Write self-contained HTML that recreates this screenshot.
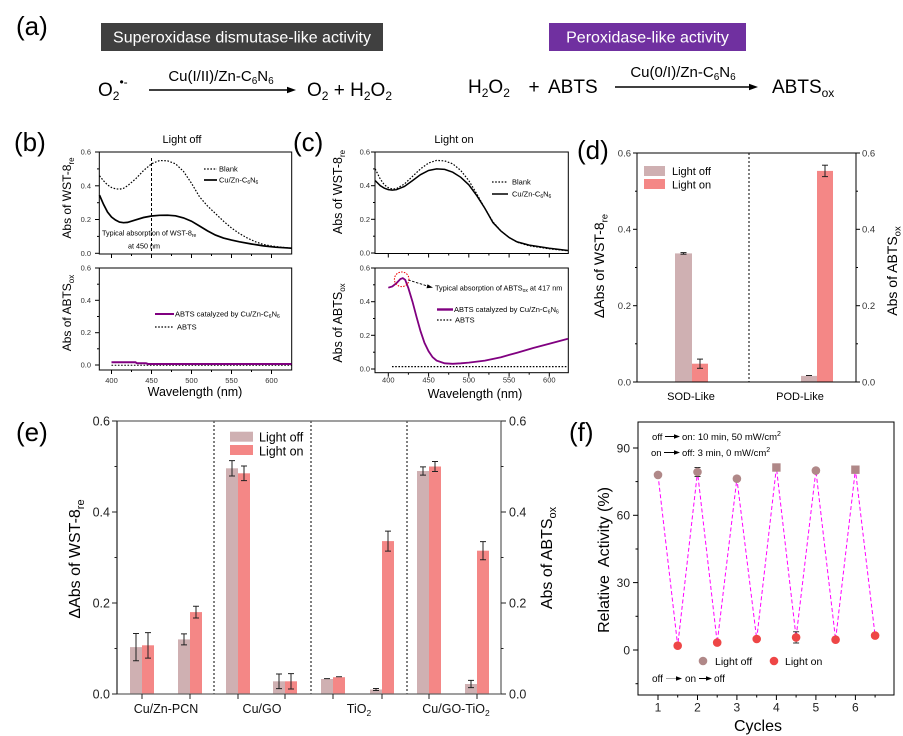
<!DOCTYPE html>
<html><head><meta charset="utf-8">
<style>
html,body{margin:0;padding:0;background:#fff;}
svg{display:block;font-family:"Liberation Sans",Arial,sans-serif;}
</style></head>
<body>
<svg width="903" height="736" viewBox="0 0 903 736" xmlns="http://www.w3.org/2000/svg">
<rect width="903" height="736" fill="#fff"/>

<!-- ============ (a) ============ -->
<text x="16" y="35" font-size="26">(a)</text>
<rect x="101" y="23" width="282" height="28" fill="#404040"/>
<text x="242" y="42.5" font-size="16" fill="#fff" text-anchor="middle">Superoxidase dismutase-like activity</text>
<rect x="549" y="23" width="197" height="28" fill="#7030a0"/>
<text x="647.5" y="42.5" font-size="16" fill="#fff" text-anchor="middle">Peroxidase-like activity</text>

<text x="98" y="96" font-size="19">O<tspan font-size="12" dy="4">2</tspan><tspan font-size="12" dy="-14">•-</tspan></text>
<line x1="149" y1="90" x2="289" y2="90" stroke="#000" stroke-width="1.5"/>
<polygon points="296,90 287,86.8 287,93.2" fill="#000"/>
<text x="221" y="81" font-size="15" text-anchor="middle">Cu(I/II)/Zn-C<tspan dy="3" font-size="10">6</tspan><tspan dy="-3">N</tspan><tspan dy="3" font-size="10">6</tspan></text>
<text x="307" y="96" font-size="19">O<tspan dy="4" font-size="12">2</tspan><tspan dy="-4"> + H</tspan><tspan dy="4" font-size="12">2</tspan><tspan dy="-4">O</tspan><tspan dy="4" font-size="12">2</tspan></text>

<text x="468" y="93" font-size="19">H<tspan dy="4" font-size="12">2</tspan><tspan dy="-4">O</tspan><tspan dy="4" font-size="12">2</tspan></text>
<text x="534" y="93" font-size="19" text-anchor="middle">+</text>
<text x="548" y="93" font-size="19">ABTS</text>
<line x1="615" y1="87" x2="751" y2="87" stroke="#000" stroke-width="1.5"/>
<polygon points="758,87 749,83.8 749,90.2" fill="#000"/>
<text x="683" y="77" font-size="15" text-anchor="middle">Cu(0/I)/Zn-C<tspan dy="3" font-size="10">6</tspan><tspan dy="-3">N</tspan><tspan dy="3" font-size="10">6</tspan></text>
<text x="772" y="93" font-size="19">ABTS<tspan dy="4" font-size="12">ox</tspan></text>

<!-- ============ (b) ============ -->
<text x="14" y="151" font-size="26">(b)</text>
<text x="182" y="143" font-size="11" text-anchor="middle">Light off</text>
<!-- top axes -->
<rect x="99.3" y="152" width="192.4" height="102" fill="none" stroke="#000" stroke-width="1"/>
<g stroke="#000" stroke-width="1" fill="none">
<line x1="95" y1="152" x2="99.3" y2="152"/><line x1="95" y1="185.8" x2="99.3" y2="185.8"/><line x1="95" y1="219.5" x2="99.3" y2="219.5"/><line x1="95" y1="253.3" x2="99.3" y2="253.3"/>
<line x1="97" y1="168.9" x2="99.3" y2="168.9"/><line x1="97" y1="202.7" x2="99.3" y2="202.7"/><line x1="97" y1="236.4" x2="99.3" y2="236.4"/>
<line x1="111.5" y1="254" x2="111.5" y2="258"/><line x1="151.5" y1="254" x2="151.5" y2="258"/><line x1="191.5" y1="254" x2="191.5" y2="258"/><line x1="231.5" y1="254" x2="231.5" y2="258"/><line x1="271.5" y1="254" x2="271.5" y2="258"/>
<line x1="131.5" y1="254" x2="131.5" y2="256"/><line x1="171.5" y1="254" x2="171.5" y2="256"/><line x1="211.5" y1="254" x2="211.5" y2="256"/><line x1="251.5" y1="254" x2="251.5" y2="256"/>
</g>
<g font-size="7.5" fill="#333" text-anchor="end">
<text x="91" y="154.5">0.6</text><text x="91" y="188.3">0.4</text><text x="91" y="222">0.2</text><text x="91" y="255.8">0.0</text>
</g>
<polyline fill="none" stroke="#000" stroke-width="1.2" stroke-dasharray="1.6,1.6" points="99.5,175.7 103.5,180.7 107.5,184.9 111.5,187.5 115.5,188.8 119.5,189.2 123.5,188.3 127.5,185.8 135.5,179.0 143.5,170.6 151.5,163.8 159.5,160.5 167.5,160.8 175.5,163.8 183.5,171.4 191.5,183.3 199.5,196.8 207.5,206.0 215.5,213.6 223.5,221.2 231.5,228.0 239.5,233.6 247.5,238.1 255.5,241.8 263.5,244.5 271.5,246.0 281.1,247.2 291.5,248.2"/>
<polyline fill="none" stroke="#000" stroke-width="1.7" points="99.5,195.1 103.5,204.3 107.5,212.0 111.5,217.0 115.5,220.0 119.5,222.1 123.5,222.7 127.5,222.4 135.5,219.9 143.5,217.5 151.5,216.0 159.5,215.3 167.5,215.2 175.5,215.8 183.5,217.9 191.5,221.2 199.5,226.0 207.5,230.9 215.5,235.1 223.5,238.1 231.5,240.1 239.5,241.8 251.5,244.0 263.5,245.9 275.5,247.2 291.5,248.2"/>
<line x1="151.5" y1="158" x2="151.5" y2="251.7" stroke="#000" stroke-width="1" stroke-dasharray="3,2"/>
<line x1="204" y1="169" x2="217" y2="169" stroke="#000" stroke-width="1.2" stroke-dasharray="1.6,1.6"/>
<text x="219" y="171.5" font-size="7.5">Blank</text>
<line x1="204" y1="180" x2="217" y2="180" stroke="#000" stroke-width="1.7"/>
<text x="219" y="182.5" font-size="7.5">Cu/Zn-C<tspan dy="1.5" font-size="5">6</tspan><tspan dy="-1.5">N</tspan><tspan dy="1.5" font-size="5">6</tspan></text>
<text x="102" y="235.5" font-size="7.2">Typical absorption of  WST-8<tspan dy="1.5" font-size="5">re</tspan></text>
<text x="128" y="248.5" font-size="7.2">at 450 nm</text>
<text transform="translate(71,198) rotate(-90)" font-size="12" text-anchor="middle">Abs of WST-8<tspan dy="3" font-size="8">re</tspan></text>

<!-- bottom (b) -->
<rect x="99.3" y="268" width="192.4" height="102" fill="none" stroke="#000" stroke-width="1"/>
<g stroke="#000" stroke-width="1">
<line x1="95" y1="268" x2="99.3" y2="268"/><line x1="95" y1="300.3" x2="99.3" y2="300.3"/><line x1="95" y1="332.7" x2="99.3" y2="332.7"/><line x1="95" y1="365" x2="99.3" y2="365"/>
<line x1="97" y1="284.2" x2="99.3" y2="284.2"/><line x1="97" y1="316.5" x2="99.3" y2="316.5"/><line x1="97" y1="348.8" x2="99.3" y2="348.8"/>
<line x1="111.5" y1="370" x2="111.5" y2="374"/><line x1="151.5" y1="370" x2="151.5" y2="374"/><line x1="191.5" y1="370" x2="191.5" y2="374"/><line x1="231.5" y1="370" x2="231.5" y2="374"/><line x1="271.5" y1="370" x2="271.5" y2="374"/>
<line x1="131.5" y1="370" x2="131.5" y2="372"/><line x1="171.5" y1="370" x2="171.5" y2="372"/><line x1="211.5" y1="370" x2="211.5" y2="372"/><line x1="251.5" y1="370" x2="251.5" y2="372"/>
</g>
<g font-size="7.5" fill="#333" text-anchor="end">
<text x="91" y="270.5">0.6</text><text x="91" y="302.8">0.4</text><text x="91" y="335.2">0.2</text><text x="91" y="367.5">0.0</text>
</g>
<g font-size="7.5" fill="#333" text-anchor="middle">
<text x="111.5" y="383">400</text><text x="151.5" y="383">450</text><text x="191.5" y="383">500</text><text x="231.5" y="383">550</text><text x="271.5" y="383">600</text>
</g>
<line x1="111.5" y1="365.3" x2="291.5" y2="365.3" stroke="#000" stroke-width="1" stroke-dasharray="1.6,1.6"/>
<polyline fill="none" stroke="#800080" stroke-width="2" points="111.5,362.3 135.5,362.3 137,363.3 146,363.3 148,364 291.5,364"/>
<line x1="155" y1="314" x2="174" y2="314" stroke="#800080" stroke-width="2"/>
<text x="175" y="316.5" font-size="7.5">ABTS catalyzed by Cu/Zn-C<tspan dy="1.5" font-size="5">6</tspan><tspan dy="-1.5">N</tspan><tspan dy="1.5" font-size="5">6</tspan></text>
<line x1="155" y1="327" x2="173" y2="327" stroke="#000" stroke-width="1.2" stroke-dasharray="1.6,1.6"/>
<text x="177" y="329.5" font-size="7.5">ABTS</text>
<text transform="translate(71,313) rotate(-90)" font-size="12" text-anchor="middle">Abs of ABTS<tspan dy="3" font-size="8">ox</tspan></text>
<text x="195" y="396" font-size="12.5" text-anchor="middle">Wavelength (nm)</text>

<!-- ============ (c) ============ -->
<text x="293" y="151" font-size="26">(c)</text>
<text x="454" y="143" font-size="11" text-anchor="middle">Light on</text>
<rect x="375" y="152" width="193.3" height="101.5" fill="none" stroke="#000" stroke-width="1"/>
<g stroke="#000" stroke-width="1">
<line x1="371" y1="152" x2="375" y2="152"/><line x1="371" y1="185.7" x2="375" y2="185.7"/><line x1="371" y1="219.3" x2="375" y2="219.3"/><line x1="371" y1="253" x2="375" y2="253"/>
<line x1="373" y1="168.9" x2="375" y2="168.9"/><line x1="373" y1="202.5" x2="375" y2="202.5"/><line x1="373" y1="236.2" x2="375" y2="236.2"/>
<line x1="388.3" y1="253.5" x2="388.3" y2="257.5"/><line x1="428.6" y1="253.5" x2="428.6" y2="257.5"/><line x1="468.8" y1="253.5" x2="468.8" y2="257.5"/><line x1="509.1" y1="253.5" x2="509.1" y2="257.5"/><line x1="549.3" y1="253.5" x2="549.3" y2="257.5"/>
<line x1="408.4" y1="253.5" x2="408.4" y2="255.5"/><line x1="448.7" y1="253.5" x2="448.7" y2="255.5"/><line x1="488.9" y1="253.5" x2="488.9" y2="255.5"/><line x1="529.2" y1="253.5" x2="529.2" y2="255.5"/>
</g>
<g font-size="7.5" fill="#333" text-anchor="end">
<text x="370" y="154.5">0.6</text><text x="370" y="188.2">0.4</text><text x="370" y="221.8">0.2</text><text x="370" y="255.5">0.0</text>
</g>
<polyline fill="none" stroke="#000" stroke-width="1.2" stroke-dasharray="1.6,1.6" points="375.2,168.9 380.25,179.0 384.3,184.8 388.3,187.7 392.3,189.0 396.4,188.7 404.4,184.0 412.5,176.4 420.5,168.9 428.6,163.0 436.6,160.4 444.7,160.9 452.7,163.8 460.8,170.5 468.8,180.6 476.9,194.1 484.9,208.4 493.0,221.9 501.0,231.1 509.1,237.5 517.1,242.2 529.2,245.8 549.3,248.8 568,250.8"/>
<polyline fill="none" stroke="#000" stroke-width="1.5" points="375.2,180.6 380.25,185.7 384.3,188.2 388.3,189.6 392.3,190.1 396.4,189.7 404.4,186.5 412.5,180.6 420.5,174.7 428.6,170.5 436.6,168.9 444.7,169.4 452.7,172.2 460.8,177.3 468.8,184.8 476.9,195.8 484.9,208.4 493.0,222.7 501.0,231.1 509.1,237.5 517.1,241.9 529.2,245.1 549.3,248.3 568,250.5"/>
<line x1="492" y1="182" x2="508" y2="182" stroke="#000" stroke-width="1.2" stroke-dasharray="1.6,1.6"/>
<text x="512" y="184.5" font-size="7.5">Blank</text>
<line x1="492" y1="194" x2="508" y2="194" stroke="#000" stroke-width="1.5"/>
<text x="512" y="196.5" font-size="7.5">Cu/Zn-C<tspan dy="1.5" font-size="5">6</tspan><tspan dy="-1.5">N</tspan><tspan dy="1.5" font-size="5">6</tspan></text>
<text transform="translate(342,192) rotate(-90)" font-size="12.5" text-anchor="middle">Abs of WST-8<tspan dy="3" font-size="8">re</tspan></text>

<!-- bottom (c) -->
<rect x="375" y="268" width="193.3" height="104.7" fill="none" stroke="#000" stroke-width="1"/>
<g stroke="#000" stroke-width="1">
<line x1="371" y1="268" x2="375" y2="268"/><line x1="371" y1="301.7" x2="375" y2="301.7"/><line x1="371" y1="335.3" x2="375" y2="335.3"/><line x1="371" y1="369" x2="375" y2="369"/>
<line x1="373" y1="284.8" x2="375" y2="284.8"/><line x1="373" y1="318.5" x2="375" y2="318.5"/><line x1="373" y1="352.2" x2="375" y2="352.2"/>
<line x1="388.3" y1="372.7" x2="388.3" y2="376.7"/><line x1="428.6" y1="372.7" x2="428.6" y2="376.7"/><line x1="468.8" y1="372.7" x2="468.8" y2="376.7"/><line x1="509.1" y1="372.7" x2="509.1" y2="376.7"/><line x1="549.3" y1="372.7" x2="549.3" y2="376.7"/>
<line x1="408.4" y1="372.7" x2="408.4" y2="374.7"/><line x1="448.7" y1="372.7" x2="448.7" y2="374.7"/><line x1="488.9" y1="372.7" x2="488.9" y2="374.7"/><line x1="529.2" y1="372.7" x2="529.2" y2="374.7"/>
</g>
<g font-size="7.5" fill="#333" text-anchor="end">
<text x="370" y="270.5">0.6</text><text x="370" y="304.2">0.4</text><text x="370" y="337.8">0.2</text><text x="370" y="371.5">0.0</text>
</g>
<g font-size="7.5" fill="#333" text-anchor="middle">
<text x="388.3" y="382.5">400</text><text x="428.6" y="382.5">450</text><text x="468.8" y="382.5">500</text><text x="509.1" y="382.5">550</text><text x="549.3" y="382.5">600</text>
</g>
<line x1="392" y1="366.6" x2="568" y2="366.6" stroke="#000" stroke-width="1.2" stroke-dasharray="1.6,1.6"/>
<polyline fill="none" stroke="#800080" stroke-width="1.8" points="388.3,287.7 392.3,286.5 396.4,283.2 400.4,279.0 402.8,278.1 405.2,279.8 408.4,288.2 412.5,301.7 416.5,316.8 420.5,331.1 424.5,342.9 428.6,351.3 432.6,357.2 436.6,360.6 444.7,363.3 452.7,363.8 460.8,363.3 468.8,362.6 484.9,360.6 501.0,357.2 517.1,352.7 533.2,348.0 549.3,343.8 568,338.7"/>
<circle cx="401.7" cy="279.3" r="7.3" fill="none" stroke="#e00" stroke-width="1" stroke-dasharray="1.5,1.3"/>
<line x1="408.3" y1="280" x2="429" y2="286.5" stroke="#000" stroke-width="0.9" stroke-dasharray="2.5,1.5"/>
<polygon points="433,287.6 427.5,284.2 426.5,288.2" fill="#000"/>
<text x="435" y="290.5" font-size="7.3">Typical absorption of ABTS<tspan dy="1.5" font-size="5">ox</tspan><tspan dy="-1.5"> at 417 nm</tspan></text>
<line x1="437" y1="309.5" x2="453" y2="309.5" stroke="#800080" stroke-width="2.4"/>
<text x="454" y="312" font-size="7.5">ABTS catalyzed by Cu/Zn-C<tspan dy="1.5" font-size="5">6</tspan><tspan dy="-1.5">N</tspan><tspan dy="1.5" font-size="5">6</tspan></text>
<line x1="437" y1="320" x2="452" y2="320" stroke="#000" stroke-width="1.2" stroke-dasharray="1.6,1.6"/>
<text x="455" y="322.5" font-size="7.5">ABTS</text>
<text transform="translate(342,323) rotate(-90)" font-size="12.5" text-anchor="middle">Abs of ABTS<tspan dy="3" font-size="8">ox</tspan></text>
<text x="475" y="398" font-size="12.5" text-anchor="middle">Wavelength (nm)</text>

<!-- ============ (d) ============ -->
<text x="577" y="159" font-size="26">(d)</text>
<text transform="translate(604,266) rotate(-90)" font-size="14" text-anchor="middle">ΔAbs of WST-8<tspan dy="3.5" font-size="9.5">re</tspan></text>
<!-- bars -->
<rect x="675" y="253.4" width="17" height="128.6" fill="#cfb0b2"/>
<rect x="692" y="363.7" width="16" height="18.3" fill="#f48786"/>
<rect x="801" y="375.9" width="16" height="6.1" fill="#cfb0b2"/>
<rect x="817" y="170.9" width="16" height="211.1" fill="#f48786"/>
<g stroke="#222" stroke-width="1">
<line x1="683.5" y1="252.6" x2="683.5" y2="254.2"/><line x1="680.5" y1="252.6" x2="686.5" y2="252.6"/><line x1="680.5" y1="254.2" x2="686.5" y2="254.2"/>
<line x1="700" y1="359.1" x2="700" y2="368.3"/><line x1="697" y1="359.1" x2="703" y2="359.1"/><line x1="697" y1="368.3" x2="703" y2="368.3"/>
<line x1="806" y1="375.5" x2="812" y2="375.5"/>
<line x1="825" y1="165.2" x2="825" y2="176.6"/><line x1="822" y1="165.2" x2="828" y2="165.2"/><line x1="822" y1="176.6" x2="828" y2="176.6"/>
</g>
<line x1="749" y1="153" x2="749" y2="382" stroke="#000" stroke-width="1" stroke-dasharray="2,2"/>
<rect x="637" y="153" width="219" height="229" fill="none" stroke="#000" stroke-width="1"/>
<g stroke="#000" stroke-width="1">
<line x1="633" y1="153" x2="637" y2="153"/><line x1="633" y1="229.3" x2="637" y2="229.3"/><line x1="633" y1="305.7" x2="637" y2="305.7"/><line x1="633" y1="382" x2="637" y2="382"/>
<line x1="635" y1="191.2" x2="637" y2="191.2"/><line x1="635" y1="267.5" x2="637" y2="267.5"/><line x1="635" y1="343.8" x2="637" y2="343.8"/>
<line x1="856" y1="153" x2="860" y2="153"/><line x1="856" y1="229.3" x2="860" y2="229.3"/><line x1="856" y1="305.7" x2="860" y2="305.7"/><line x1="856" y1="382" x2="860" y2="382"/>
<line x1="856" y1="191.2" x2="858" y2="191.2"/><line x1="856" y1="267.5" x2="858" y2="267.5"/><line x1="856" y1="343.8" x2="858" y2="343.8"/>
</g>
<g font-size="9.5" fill="#333" text-anchor="end">
<text x="631" y="156.3">0.6</text><text x="631" y="232.6">0.4</text><text x="631" y="309">0.2</text><text x="631" y="385.3">0.0</text>
</g>
<g font-size="9.5" fill="#333">
<text x="862" y="156.3">0.6</text><text x="862" y="232.6">0.4</text><text x="862" y="309">0.2</text><text x="862" y="385.3">0.0</text>
</g>
<rect x="644" y="166" width="21" height="10" fill="#cfb0b2"/>
<text x="672" y="175" font-size="11">Light off</text>
<rect x="644" y="179" width="21" height="10" fill="#f48786"/>
<text x="672" y="188.3" font-size="11">Light on</text>
<text x="691" y="400" font-size="11" text-anchor="middle">SOD-Like</text>
<text x="800" y="400" font-size="11" text-anchor="middle">POD-Like</text>
<text transform="translate(897,271) rotate(-90)" font-size="14" text-anchor="middle">Abs of ABTS<tspan dy="3.5" font-size="9.5">ox</tspan></text>

<!-- ============ (e) ============ -->
<text x="16" y="441" font-size="26">(e)</text>
<text transform="translate(80,559) rotate(-90)" font-size="16" text-anchor="middle">ΔAbs of WST-8<tspan dy="4" font-size="11">re</tspan></text>
<text transform="translate(552,558) rotate(-90)" font-size="16" text-anchor="middle">Abs of ABTS<tspan dy="4" font-size="11">ox</tspan></text>
<!-- bars e -->
<g fill="#cfb0b2">
<rect x="130" y="647.1" width="12" height="46.9"/>
<rect x="178" y="639.4" width="12" height="54.6"/>
<rect x="226" y="468.3" width="12" height="225.7"/>
<rect x="273" y="681.3" width="12" height="12.7"/>
<rect x="321" y="679" width="12" height="15"/>
<rect x="370" y="689.5" width="12" height="4.5"/>
<rect x="417" y="471" width="12" height="223"/>
<rect x="465" y="684" width="12" height="10"/>
</g>
<g fill="#f48786">
<rect x="142" y="645.3" width="12" height="48.7"/>
<rect x="190" y="612.1" width="12" height="81.9"/>
<rect x="238" y="473.3" width="12" height="220.7"/>
<rect x="285" y="681.3" width="12" height="12.7"/>
<rect x="333" y="677.2" width="12" height="16.8"/>
<rect x="382" y="541.1" width="12" height="152.9"/>
<rect x="429" y="466.5" width="12" height="227.5"/>
<rect x="477" y="550.7" width="12" height="143.3"/>
</g>
<g stroke="#222" stroke-width="1">
<path d="M136,633.5V660.8M133,633.5H139M133,660.8H139"/>
<path d="M148,632.6V658.1M145,632.6H151M145,658.1H151"/>
<path d="M184,633.9V644.9M181,633.9H187M181,644.9H187"/>
<path d="M196,606.2V618M193,606.2H199M193,618H199"/>
<path d="M232,460.6V476M229,460.6H235M229,476H235"/>
<path d="M244,466V480.6M241,466H247M241,480.6H247"/>
<path d="M279,674V688.6M276,674H282M276,688.6H282"/>
<path d="M291,673.6V689M288,673.6H294M288,689H294"/>
<path d="M324,678.6H330M336,676.8H342"/>
<path d="M376,688.5V690.5M373,688.5H379M373,690.5H379"/>
<path d="M388,531.1V551.1M385,531.1H391M385,551.1H391"/>
<path d="M423,466.9V475.1M420,466.9H426M420,475.1H426"/>
<path d="M435,461.5V471.5M432,461.5H438M432,471.5H438"/>
<path d="M471,680.4V687.6M468,680.4H474M468,687.6H474"/>
<path d="M483,541.6V559.8M480,541.6H486M480,559.8H486"/>
</g>
<g stroke="#000" stroke-width="1" stroke-dasharray="2,2">
<line x1="214" y1="421" x2="214" y2="694"/><line x1="311" y1="421" x2="311" y2="694"/><line x1="407" y1="421" x2="407" y2="694"/>
</g>
<g stroke="#666" stroke-width="1.3" fill="none">
<line x1="117" y1="421" x2="501" y2="421"/>
<line x1="117" y1="694" x2="501" y2="694"/>
<line x1="501" y1="421" x2="501" y2="694"/>
</g>
<line x1="117" y1="421" x2="117" y2="694" stroke="#222" stroke-width="1.2"/>
<g stroke="#222" stroke-width="1">
<line x1="112" y1="421" x2="117" y2="421"/><line x1="112" y1="512" x2="117" y2="512"/><line x1="112" y1="603" x2="117" y2="603"/><line x1="112" y1="694" x2="117" y2="694"/>
<line x1="114.5" y1="466.5" x2="117" y2="466.5"/><line x1="114.5" y1="557.5" x2="117" y2="557.5"/><line x1="114.5" y1="648.5" x2="117" y2="648.5"/>
<line x1="501" y1="421" x2="506" y2="421"/><line x1="501" y1="512" x2="506" y2="512"/><line x1="501" y1="603" x2="506" y2="603"/><line x1="501" y1="694" x2="506" y2="694"/>
<line x1="501" y1="466.5" x2="503.5" y2="466.5"/><line x1="501" y1="557.5" x2="503.5" y2="557.5"/><line x1="501" y1="648.5" x2="503.5" y2="648.5"/>
<line x1="142" y1="694" x2="142" y2="699"/><line x1="190" y1="694" x2="190" y2="699"/><line x1="238" y1="694" x2="238" y2="699"/><line x1="285" y1="694" x2="285" y2="699"/>
<line x1="333" y1="694" x2="333" y2="699"/><line x1="382" y1="694" x2="382" y2="699"/><line x1="429" y1="694" x2="429" y2="699"/><line x1="477" y1="694" x2="477" y2="699"/>
</g>
<g font-size="12.5" fill="#222" text-anchor="end">
<text x="110" y="425.5">0.6</text><text x="110" y="516.5">0.4</text><text x="110" y="607.5">0.2</text><text x="110" y="698.5">0.0</text>
</g>
<g font-size="12.5" fill="#222">
<text x="509" y="425.5">0.6</text><text x="509" y="516.5">0.4</text><text x="509" y="607.5">0.2</text><text x="509" y="698.5">0.0</text>
</g>
<rect x="230" y="431.7" width="23" height="10" fill="#cfb0b2"/>
<text x="259" y="441.5" font-size="12.5">Light off</text>
<rect x="230" y="445" width="23" height="10" fill="#f48786"/>
<text x="259" y="455.5" font-size="12.5">Light on</text>
<g font-size="12.5" fill="#111" text-anchor="middle">
<text x="166" y="713">Cu/Zn-PCN</text>
<text x="262" y="713">Cu/GO</text>
<text x="359" y="713">TiO<tspan dy="3" font-size="8.5">2</tspan></text>
<text x="456" y="713">Cu/GO-TiO<tspan dy="3" font-size="8.5">2</tspan></text>
</g>

<!-- ============ (f) ============ -->
<text x="569" y="441" font-size="26">(f)</text>
<rect x="638" y="422" width="256" height="273" fill="none" stroke="#000" stroke-width="1"/>
<g stroke="#000" stroke-width="1">
<line x1="633" y1="448" x2="638" y2="448"/><line x1="633" y1="515.3" x2="638" y2="515.3"/><line x1="633" y1="582.6" x2="638" y2="582.6"/><line x1="633" y1="650" x2="638" y2="650"/>
<line x1="635.5" y1="481.6" x2="638" y2="481.6"/><line x1="635.5" y1="549" x2="638" y2="549"/><line x1="635.5" y1="616.3" x2="638" y2="616.3"/><line x1="635.5" y1="683.7" x2="638" y2="683.7"/>
<line x1="658" y1="695" x2="658" y2="700"/><line x1="697.5" y1="695" x2="697.5" y2="700"/><line x1="736.9" y1="695" x2="736.9" y2="700"/><line x1="776.4" y1="695" x2="776.4" y2="700"/><line x1="815.9" y1="695" x2="815.9" y2="700"/><line x1="855.4" y1="695" x2="855.4" y2="700"/>
<line x1="677.7" y1="695" x2="677.7" y2="697.5"/><line x1="717.2" y1="695" x2="717.2" y2="697.5"/><line x1="756.7" y1="695" x2="756.7" y2="697.5"/><line x1="796.1" y1="695" x2="796.1" y2="697.5"/><line x1="835.6" y1="695" x2="835.6" y2="697.5"/><line x1="875.1" y1="695" x2="875.1" y2="697.5"/>
</g>
<g font-size="12" fill="#222" text-anchor="end">
<text x="630" y="452.3">90</text><text x="630" y="519.6">60</text><text x="630" y="586.9">30</text><text x="630" y="654.3">0</text>
</g>
<g font-size="12" fill="#222" text-anchor="middle">
<text x="658" y="711.5">1</text><text x="697.5" y="711.5">2</text><text x="736.9" y="711.5">3</text><text x="776.4" y="711.5">4</text><text x="815.9" y="711.5">5</text><text x="855.4" y="711.5">6</text>
</g>
<polyline fill="none" stroke="#ff00ff" stroke-width="1" stroke-dasharray="4,2.5" points="658,474.9 677.7,645.7 697.5,472.0 717.2,642.6 736.9,478.7 756.7,639.0 776.4,467.5 796.1,637.4 815.9,470.6 835.6,639.7 855.4,469.7 875.1,635.6"/>
<g stroke="#333" stroke-width="1">
<path d="M697.5,467.5V476.5M694.5,467.5H700.5M694.5,476.5H700.5"/>
<path d="M796.1,631.8V643M793.1,631.8H799.1M793.1,643H799.1"/>
<path d="M776.4,464V471M773.4,464H779.4M773.4,471H779.4"/>
</g>
<g fill="#b08888">
<circle cx="658" cy="474.9" r="4.3"/><circle cx="697.5" cy="472" r="4.3"/><circle cx="736.9" cy="478.7" r="4.3"/>
<rect x="772.2" y="463.3" width="8.4" height="8.4"/><circle cx="815.9" cy="470.6" r="4.3"/><rect x="851.2" y="465.5" width="8.4" height="8.4"/>
</g>
<g fill="#ee4646">
<circle cx="677.7" cy="645.7" r="4.3"/><circle cx="717.2" cy="642.6" r="4.3"/><circle cx="756.7" cy="639" r="4.3"/>
<circle cx="796.1" cy="637.4" r="4.3"/><circle cx="835.6" cy="639.7" r="4.3"/><circle cx="875.1" cy="635.6" r="4.3"/>
</g>
<!-- annotations -->
<text x="652" y="440" font-size="9.5">off</text>
<line x1="665" y1="436.5" x2="675" y2="436.5" stroke="#000" stroke-width="1"/><polygon points="680,436.5 674,434.3 674,438.7" fill="#000"/>
<text x="682" y="440" font-size="9.5">on:  10 min, 50 mW/cm<tspan dy="-4" font-size="7">2</tspan></text>
<text x="651" y="456" font-size="9.5">on</text>
<line x1="664" y1="452.5" x2="675" y2="452.5" stroke="#000" stroke-width="1"/><polygon points="680,452.5 674,450.3 674,454.7" fill="#000"/>
<text x="682" y="456" font-size="9.5">off:   3 min, 0 mW/cm<tspan dy="-4" font-size="7">2</tspan></text>
<circle cx="703" cy="661" r="4.3" fill="#b08888"/>
<text x="715" y="665" font-size="10.5">Light off</text>
<circle cx="774" cy="661" r="4.3" fill="#ee4646"/>
<text x="785" y="665" font-size="10.5">Light on</text>
<text x="652" y="682" font-size="10">off</text>
<line x1="666" y1="678.5" x2="677" y2="678.5" stroke="#aaa" stroke-width="1"/><polygon points="682,678.5 676,676.3 676,680.7" fill="#000"/>
<text x="685" y="682" font-size="10">on</text>
<line x1="699" y1="678.5" x2="707" y2="678.5" stroke="#000" stroke-width="1"/><polygon points="712,678.5 706,676.3 706,680.7" fill="#000"/>
<text x="714" y="682" font-size="10">off</text>
<text transform="translate(609,560) rotate(-90)" font-size="16" text-anchor="middle" xml:space="preserve">Relative  Activity (%)</text>
<text x="758" y="731" font-size="16" text-anchor="middle">Cycles</text>
</svg>
</body></html>
